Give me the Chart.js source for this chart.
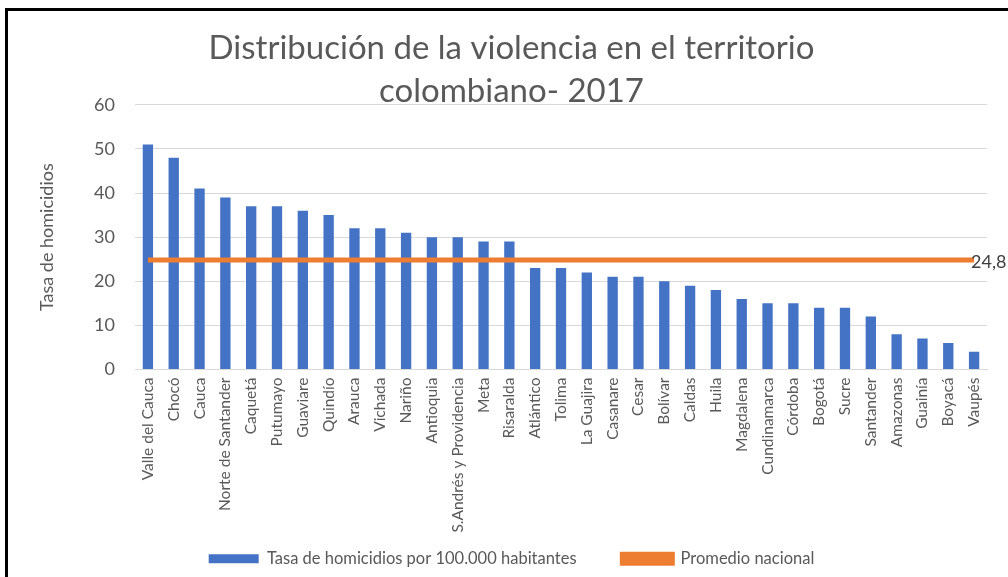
<!DOCTYPE html>
<html>
<head>
<meta charset="utf-8">
<script src="https://cdn.jsdelivr.net/npm/chart.js@4/dist/chart.umd.min.js"></script>
<style>
  html, body { margin: 0; padding: 0; background: #fff; overflow: hidden; }
  #wrap { position: relative; width: 1008px; height: 577px; }
  #chart { position: absolute; left: 0; top: 0; }
  #frame {
    position: absolute; left: 5px; top: 8px; width: 1100px; height: 700px;
    border: 3px solid #000; box-sizing: border-box; pointer-events: none;
  }
</style>
</head>
<body>
<div id="wrap">
  <canvas id="chart" width="1008" height="577"></canvas>
  <div id="frame"></div>
</div>
<script>
// departamentos, ordered as in the figure
const departments = [
  "Valle del Cauca", "Chocó", "Cauca", "Norte de Santander", "Caquetá",
  "Putumayo", "Guaviare", "Quindío", "Arauca", "Vichada", "Nariño",
  "Antioquia", "S.Andrés y Providencia", "Meta", "Risaralda", "Atlántico",
  "Tolima", "La Guajira", "Casanare", "Cesar", "Bolívar", "Caldas", "Huila",
  "Magdalena", "Cundinamarca", "Córdoba", "Bogotá", "Sucre", "Santander",
  "Amazonas", "Guainía", "Boyacá", "Vaupés"
];

const homicideRate = [
  51, 48, 41, 39, 37,
  37, 36, 35, 32, 32, 31,
  30, 30, 29, 29, 23,
  23, 22, 21, 21, 20, 19, 18,
  16, 15, 15, 14, 14, 12,
  8, 7, 6, 4
];

const nationalAverage = 24.8;
const nationalAverageLabel = "24,8";

const yTicks = [0, 10, 20, 30, 40, 50, 60];

const avgSeries = departments.map(() => nationalAverage);

const FONT = "Lato, 'Open Sans', sans-serif";
const GREY = "#595959";

// writes the value next to the last point of the average line
const endLabel = {
  id: "endLabel",
  afterDatasetsDraw(chart) {
    const meta = chart.getDatasetMeta(1);
    const last = meta.data[meta.data.length - 1];
    if (!last) return;
    const ctx = chart.ctx;
    ctx.save();
    ctx.font = "18px " + FONT;
    ctx.fillStyle = "#404040";
    ctx.textAlign = "left";
    ctx.textBaseline = "middle";
    ctx.fillText(nationalAverageLabel, last.x - 3, last.y + 2);
    ctx.restore();
  }
};

const ctx = document.getElementById("chart").getContext("2d");
new Chart(ctx, {
  type: "bar",
  data: {
    labels: departments,
    datasets: [
      {
        label: "Tasa de homicidios por 100.000 habitantes",
        data: homicideRate,
        backgroundColor: "#4472C4",
        borderWidth: 0,
        categoryPercentage: 1,
        barPercentage: 0.4,
        order: 2
      },
      {
        type: "line",
        label: "Promedio nacional",
        data: avgSeries,
        borderColor: "#ED7D31",
        backgroundColor: "#ED7D31",
        borderWidth: 5,
        pointRadius: 0,
        fill: false,
        order: 1
      }
    ]
  },
  options: {
    responsive: false,
    animation: false,
    layout: { padding: { left: 36, right: 21, top: 0, bottom: 0 } },
    plugins: {
      title: {
        display: true,
        text: ["Distribución de la violencia en el territorio", "colombiano- 2017"],
        color: GREY,
        font: { family: FONT, size: 33, weight: "normal", lineHeight: 1.33 },
        padding: { top: 26, bottom: -9 }
      },
      legend: {
        position: "bottom",
        labels: {
          color: GREY,
          font: { family: FONT, size: 16.5 },
          boxWidth: 50,
          boxHeight: 9,
          padding: 12,
          sort: (a, b) => a.datasetIndex - b.datasetIndex,
          generateLabels(chart) {
            const items = Chart.defaults.plugins.legend.labels.generateLabels(chart);
            // widen the gap after the first entry, as in the original
            items.forEach(it => { if (it.datasetIndex === 0) it.text = it.text + "        "; });
            return items;
          }
        }
      },
      tooltip: { enabled: false }
    },
    scales: {
      x: {
        afterFit(scale) { scale.height = 169; },
        grid: { display: false, drawTicks: false },
        border: { color: "#d9d9d9" },
        ticks: {
          color: GREY,
          font: { family: FONT, size: 15.5 },
          minRotation: 90,
          maxRotation: 90,
          autoSkip: false,
          padding: 8
        }
      },
      y: {
        min: 0,
        max: 60,
        afterBuildTicks(scale) {
          scale.ticks = yTicks.map(v => ({ value: v }));
        },
        afterFit(scale) { scale.width = 99; },
        grid: { color: "#d9d9d9", drawTicks: false },
        border: { display: false },
        ticks: {
          color: GREY,
          font: { family: FONT, size: 18 },
          padding: 20
        },
        title: {
          display: true,
          text: "Tasa de homicidios",
          color: GREY,
          font: { family: FONT, size: 18 },
          padding: { top: 0, bottom: 4 }
        }
      }
    }
  },
  plugins: [endLabel]
});
</script>
</body>
</html>
